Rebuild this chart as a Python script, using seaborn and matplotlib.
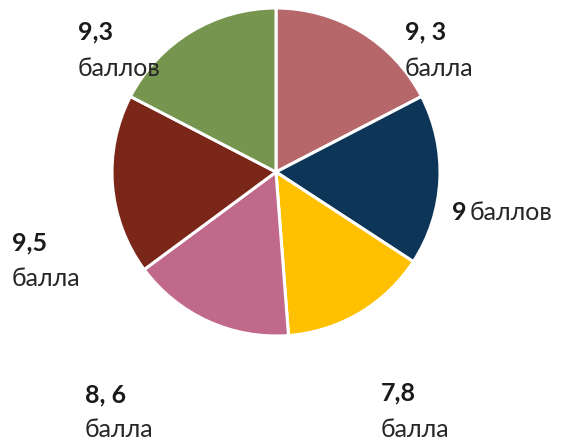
import matplotlib
matplotlib.use("Agg")
import matplotlib.pyplot as plt
import seaborn as sns

# data, clockwise from 12 o'clock
scores = [9.3, 9.0, 7.8, 8.6, 9.5, 9.3]
numbers = ["9, 3", "9", "7,8", "8, 6", "9,5", "9,3"]
words = ["балла", "баллов", "балла", "балла", "балла", "баллов"]
colors = ["#B5676A", "#0D3557", "#FFC000", "#C0698A", "#7A2619", "#76964F"]

sns.set_theme(style="white")
plt.rcParams["font.family"] = ["Lato", "DejaVu Sans"]

W, H = 565, 439
fig = plt.figure(figsize=(W / 100, H / 100), dpi=100)
ax = fig.add_axes([0, 0, 1, 1])

ax.pie(scores, colors=sns.color_palette(colors), startangle=90, counterclock=False,
       center=(276, H - 173), radius=164, frame=True,
       wedgeprops=dict(edgecolor="white", linewidth=2.2))
ax.set_xlim(0, W)
ax.set_ylim(0, H)
ax.set_aspect("equal")
ax.axis("off")

# label positions (left x, number y, word y) in pixels from top
label_pos = [(405, 32, 68), (452, 213, None), (381, 393, 430),
             (85, 395, 430), (12, 243, 278), (78, 32, 68)]

fs = 18
for (x, ny, wy), num, word in zip(label_pos, numbers, words):
    ax.text(x, H - ny, num, fontsize=fs, fontweight="bold", ha="left", va="center",
            color="#1a1a1a")
    if wy is None:
        ax.text(x + 18, H - ny, word, fontsize=fs, ha="left", va="center", color="#262626")
    else:
        ax.text(x, H - wy, word, fontsize=fs, ha="left", va="center", color="#262626")

fig.savefig("out.png", dpi=100, facecolor="white")
